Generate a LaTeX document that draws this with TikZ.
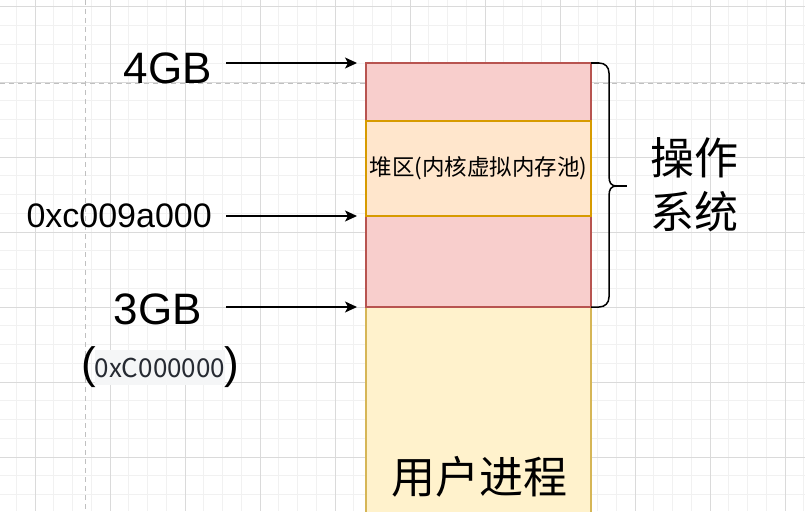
\documentclass[tikz,border=0pt]{standalone}
\usepackage{fontspec}
\setmainfont{Liberation Sans}
\newfontfamily\cjk{Noto Sans CJK SC}
\usetikzlibrary{arrows.meta}
\definecolor{kernfill}{HTML}{F8CECC}
\definecolor{kernline}{HTML}{B85450}
\definecolor{heapfill}{HTML}{FFE6CC}
\definecolor{heapline}{HTML}{D79B00}
\definecolor{userfill}{HTML}{FFF2CC}
\definecolor{userline}{HTML}{D6B656}
\definecolor{gridmajor}{RGB}{218,218,218}
\definecolor{gridminor}{RGB}{241,241,241}
\definecolor{guide}{RGB}{192,192,192}
\definecolor{hexbg}{RGB}{245,246,247}
\definecolor{hextext}{RGB}{38,42,50}

\begin{document}
\begin{tikzpicture}[x=1pt,y=-1pt,
	region/.style={draw,line width=1.6pt,outer sep=0pt,inner sep=0pt,minimum width=225pt,anchor=north west},
	kern/.style={region,fill=kernfill,draw=kernline},
	heapbox/.style={region,fill=heapfill,draw=heapline,font=\cjk\fontsize{22.5}{28}\selectfont},
	userbox/.style={region,fill=userfill,draw=userline},
	lbl/.style={inner sep=0pt,font=\fontsize{44}{52}\selectfont},
	addr/.style={inner sep=0pt,font=\fontsize{34}{40}\selectfont},
	bigcjk/.style={inner sep=0pt,align=center,font=\cjk\fontsize{44}{54}\selectfont},
	hexbox/.style={fill=hexbg,text=hextext,inner sep=0pt,minimum width=130pt,minimum height=35pt,font=\cjk\fontsize{26}{30}\selectfont},
	ptr/.style={-{Stealth[length=12pt,width=11pt,inset=3pt]},line width=1.3pt}
]
\useasboundingbox (0,0) rectangle (805,511);
\fill[white] (0,0) rectangle (805,511);
\begin{scope}
\clip (0,0) rectangle (805,511);
% grid
\foreach \i in {0,...,43}
{
	\draw[gridminor,line width=1pt] (-2.5+18.75*\i,0) -- ++(0,511);
}
\foreach \i in {-1,...,27}
{
	\draw[gridminor,line width=1pt] (0,7+18.75*\i) -- ++(805,0);
}
\foreach \i in {-1,...,10}
{
	\draw[gridmajor,line width=1pt] (35+75*\i,0) -- ++(0,511);
}
\foreach \i in {0,...,6}
{
	\draw[gridmajor,line width=1pt] (0,7+75*\i) -- ++(805,0);
}
\draw[guide,line width=1pt,dash pattern=on 5pt off 4pt] (0,83.5) -- (805,83.5);
\draw[guide,line width=1pt,dash pattern=on 5pt off 4pt] (85,0) -- (85,511);
% memory layout
\node[userbox,minimum height=225pt] (user) at (366,307) {};
\node[kern,minimum height=91pt] (kbot) at (366,216) {};
\node[kern,minimum height=58pt] (ktop) at (366,63) {};
\node[heapbox,minimum height=95pt] (heap) at (366,121) {堆区(内核虚拟内存池)};
\node[bigcjk] (ulabel) at (479,477) {用户进程};
\end{scope}
% addresses
\node[lbl,anchor=base east] (gb4) at (212,83) {4GB};
\node[addr,anchor=base east] (heapaddr) at (212,227) {0xc009a000};
\node[lbl,anchor=base east] (gb3) at (202,324) {3GB};
\node[hexbox] (hexc) at (160,367.5) {0xC000000};
\node[lbl,anchor=base west] (lpar) at (81,378) {(};
\node[lbl,anchor=base east] (rpar) at (239,378) {)};
\coordinate (from4) at (226,63);
\coordinate (fromheap) at (226,216);
\coordinate (from3) at (226,307);
\draw[ptr] (from4) -- ([xshift=-9pt]ktop.north west);
\draw[ptr] (fromheap) -- ([xshift=-9pt]heap.south west);
\draw[ptr] (from3) -- ([xshift=-9pt]kbot.south west);
% brace
\draw[line width=1.5pt] (ktop.north east) -- (599,63) .. controls (605,63) and (609,67) .. (609,73)
	-- (609,176) .. controls (609,183) and (611,186) .. (617,186)
	.. controls (611,186) and (609,189) .. (609,196)
	-- (609,297) .. controls (609,303) and (605,307) .. (599,307) -- (kbot.south east);
\draw[line width=1.5pt] (617,186) -- (627,186);
\node[bigcjk] (os) at (694,185) {操作\\系统};
\end{tikzpicture}
\end{document}
